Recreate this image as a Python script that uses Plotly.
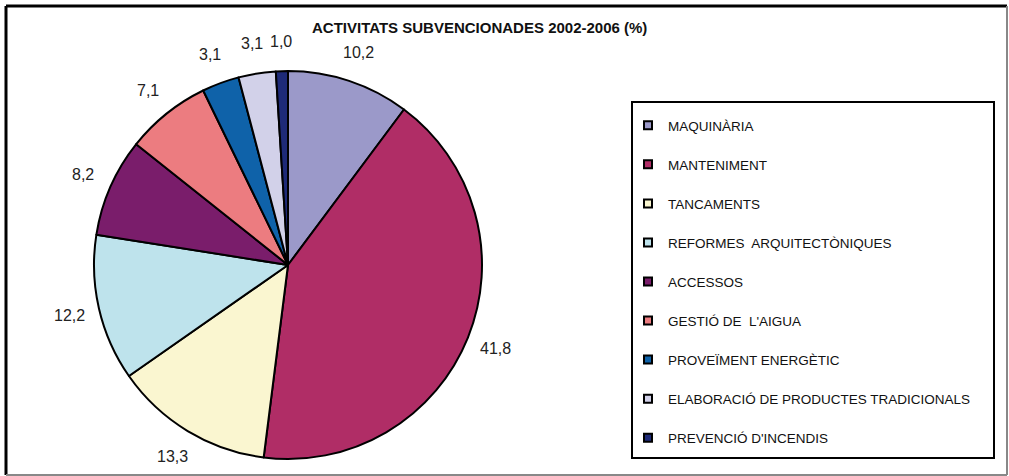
import math
import plotly.graph_objects as go

categories = ["MAQUINÀRIA", "MANTENIMENT", "TANCAMENTS", "REFORMES  ARQUITECTÒNIQUES",
              "ACCESSOS", "GESTIÓ DE  L'AIGUA", "PROVEÏMENT ENERGÈTIC",
              "ELABORACIÓ DE PRODUCTES TRADICIONALS", "PREVENCIÓ D'INCENDIS"]
values = [10.2, 41.8, 13.3, 12.2, 8.2, 7.1, 3.1, 3.1, 1.0]
value_labels = ["10,2", "41,8", "13,3", "12,2", "8,2", "7,1", "3,1", "3,1", "1,0"]
colors = ["#9B99C9", "#B02D66", "#FAF6D0", "#BEE3EC", "#7A1D6B",
          "#EC7C80", "#0F62A9", "#D2D1E9", "#1E2A78"]

W, H = 1009, 476
cx, cy, r = 288, 265, 194
label_r = r + 30

fig = go.Figure()
fig.add_trace(go.Pie(
    labels=categories, values=values, text=value_labels,
    textinfo="none",
    marker=dict(colors=colors, line=dict(color="black", width=2)),
    sort=False, direction="clockwise", rotation=0,
    showlegend=False, hoverinfo="label+value",
    domain=dict(x=[(cx - r) / W, (cx + r) / W], y=[(H - cy - r) / H, (H - cy + r) / H]),
))

for i, (cat, col) in enumerate(zip(categories, colors)):
    fig.add_trace(go.Scatter(
        x=[None], y=[None], mode="markers", name=cat, legendgroup=str(i),
        marker=dict(symbol="square", size=8, color=col, line=dict(color="black", width=2)),
    ))

# value labels placed outside each slice, at the slice's mid-angle
annotations = []
total = sum(values)
cum = 0.0
for v, lab in zip(values, value_labels):
    mid = (cum + v / 2) / total * 2 * math.pi
    cum += v
    px = cx + label_r * math.sin(mid)
    py = cy - label_r * math.cos(mid)
    annotations.append(dict(
        text=lab, x=px / W, y=1 - py / H, xref="paper", yref="paper",
        xanchor="center", yanchor="middle", showarrow=False,
        font=dict(size=16, color="#222222"),
    ))

annotations.append(dict(
    text="<b>ACTIVITATS SUBVENCIONADES 2002-2006 (%)</b>",
    x=479 / W, y=1 - 27 / H, xref="paper", yref="paper",
    xanchor="center", yanchor="middle", showarrow=False,
    font=dict(size=15, color="#111111"),
))

fig.update_layout(
    width=W, height=H,
    margin=dict(l=0, r=0, t=0, b=0),
    paper_bgcolor="white", plot_bgcolor="white",
    xaxis=dict(visible=False), yaxis=dict(visible=False),
    font=dict(family="Liberation Sans, Arial", color="#111111"),
    legend=dict(
        x=628 / W, y=1 - 110 / H, xanchor="left", yanchor="top",
        bgcolor="rgba(0,0,0,0)", borderwidth=0,
        font=dict(size=13.5, color="#111111"),
        tracegroupgap=18.5,
    ),
    annotations=annotations,
    shapes=[
        dict(type="rect", xref="paper", yref="paper",
             x0=632 / W, x1=994 / W, y0=1 - 458 / H, y1=1 - 102 / H,
             line=dict(color="black", width=2)),
        dict(type="line", xref="paper", yref="paper",
             x0=6 / W, x1=1007 / W, y0=1 - 6 / H, y1=1 - 6 / H,
             line=dict(color="black", width=3)),
        dict(type="line", xref="paper", yref="paper",
             x0=6 / W, x1=6 / W, y0=1 - 6 / H, y1=1 - 475 / H,
             line=dict(color="black", width=3)),
        dict(type="line", xref="paper", yref="paper",
             x0=6 / W, x1=1007 / W, y0=1 - 475 / H, y1=1 - 475 / H,
             line=dict(color="#888888", width=2)),
        dict(type="line", xref="paper", yref="paper",
             x0=1007 / W, x1=1007 / W, y0=1 - 6 / H, y1=1 - 475 / H,
             line=dict(color="#888888", width=2)),
    ],
)

fig.write_html("out.html", config={"displayModeBar": False},
               post_script="document.body.style.margin='0px';")
